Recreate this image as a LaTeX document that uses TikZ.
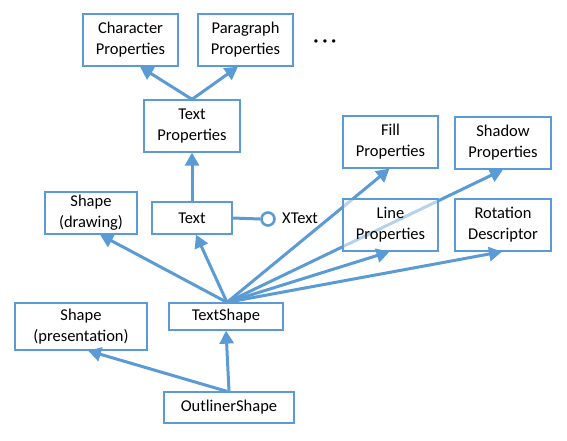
\documentclass[tikz,border=0pt]{standalone}
\usepackage{fontspec}
\setmainfont{Carlito}
\usetikzlibrary{arrows.meta,calc}
\definecolor{ablue}{HTML}{5B9BD5}
\begin{document}
\begin{tikzpicture}[x=1pt,y=-1pt,
  box/.style={draw=ablue,line width=1.3pt,fill=white,align=center,inner sep=0pt,
    font=\fontsize{16.5}{21}\selectfont},
  arr/.style={draw=ablue,line width=3pt,-{Triangle[length=13pt,width=14pt]}},
  conn/.style={draw=ablue,line width=3pt}]
\useasboundingbox (0,0) rectangle (567,440);
\path
  (130.5,40) node[box,minimum width=95pt,minimum height=52pt] (char) {Character\\Properties}
  (245.5,40) node[box,minimum width=95pt,minimum height=52pt] (para) {Paragraph\\Properties}
  (192,126) node[box,minimum width=96pt,minimum height=52pt] (tprops) {Text\\Properties}
  (91,213) node[box,minimum width=92pt,minimum height=42pt] (shaped) {Shape\\(drawing)}
  (192,218) node[box,minimum width=80pt,minimum height=32pt] (text) {Text}
  (390.5,142) node[box,minimum width=95pt,minimum height=52pt] (fill) {Fill\\Properties}
  (503,143) node[box,minimum width=96pt,minimum height=52pt] (shadow) {Shadow\\Properties}
  (503,225) node[box,minimum width=96pt,minimum height=52pt] (rot) {Rotation\\Descriptor}
  (81,326.5) node[box,minimum width=132pt,minimum height=47pt] (shapep) {Shape\\(presentation)}
  (226,316.5) node[box,minimum width=114pt,minimum height=27pt] (tshape) {TextShape}
  (229,407.5) node[box,minimum width=130pt,minimum height=31pt] (outl) {OutlinerShape};
\node[font=\fontsize{18}{20}\selectfont\bfseries] (dots) at (325,43) {· · ·};
\node[draw=ablue,line width=2.6pt,circle,minimum size=13pt,inner sep=0pt] (xt) at (268,219) {};
\node[anchor=west,font=\fontsize{16.5}{20}\selectfont,inner sep=0pt] (xtext) at (282,218) {XText};
\coordinate (ts) at ($(tshape.north)+(1,0)$);
\draw[arr] (tprops.north) -- ($(char.south)+(9.5,0)$);
\draw[arr] (tprops.north) -- ($(para.south)+(-7.5,0)$);
\draw[arr] (text.north) -- (tprops.south);
\draw[conn] (text.east) -- (xt.west);
\draw[arr] (ts) -- ($(shaped.south)+(9,0)$);
\draw[arr] (ts) -- ($(text.south)+(4,0)$);
\draw[arr] (ts) -- ($(fill.south)+(-1,0)$);
\draw[arr] (ts) -- (shadow.south);
\draw[arr] (ts) -- ($(rot.south)+(-1,0)$);
\draw[arr] (outl.north) -- (tshape.south);
\draw[arr] ($(outl.north)+(-2,0)$) -- ($(shapep.south)+(7,0)$);
\node[box,fill opacity=0.55,text opacity=1,minimum width=95pt,minimum height=52pt] (line) at (390.5,225) {Line\\Properties};
\draw[arr] (ts) -- ($(line.south)+(-1,0)$);
\end{tikzpicture}
\end{document}
